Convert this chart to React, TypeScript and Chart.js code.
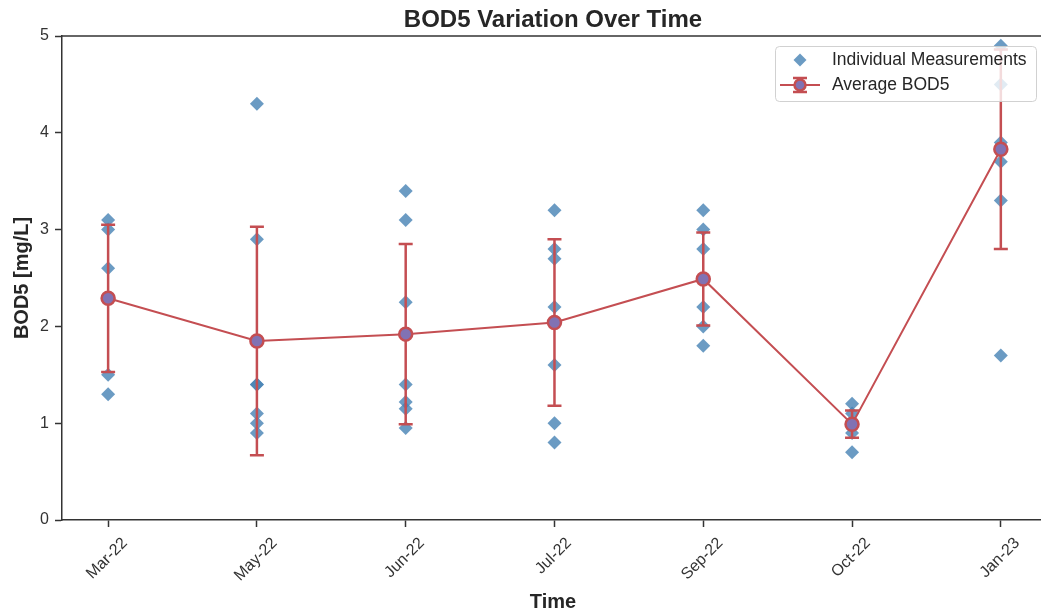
import React, { useEffect, useRef } from "react";
import { Chart, registerables } from "chart.js";

Chart.register(...registerables);

const categories = ["Mar-22", "May-22", "Jun-22", "Jul-22", "Sep-22", "Oct-22", "Jan-23"];

const measurements: number[][] = [
  [3.1, 3.0, 2.6, 1.5, 1.3],
  [4.3, 2.9, 1.4, 1.4, 1.1, 1.0, 0.9],
  [3.4, 3.1, 2.25, 1.4, 1.22, 1.15, 0.95],
  [3.2, 2.8, 2.7, 2.2, 1.6, 1.0, 0.8],
  [3.2, 3.0, 2.8, 2.5, 2.2, 2.0, 1.8],
  [1.2, 1.1, 1.0, 0.9, 0.7],
  [4.9, 4.5, 3.9, 3.85, 3.7, 3.3, 1.7],
];

const averageBOD5 = [2.29, 1.85, 1.92, 2.04, 2.49, 0.99, 3.83];
const errorBOD5 = [0.76, 1.18, 0.93, 0.86, 0.48, 0.14, 1.03];

const yTicks = [0, 1, 2, 3, 4, 5];

const RED = "#c44e52";
const PURPLE = "#8172b3";
const BLUE = "rgba(70,130,180,0.8)";
const TEXT = "#262626";
const FONT = "'Liberation Sans', Arial, sans-serif";

export default function App() {
  const ref = useRef<HTMLCanvasElement | null>(null);

  useEffect(() => {
    if (!ref.current) return;
    const scatterData: { x: number; y: number }[] = [];
    measurements.forEach((vals, i) => vals.forEach((v) => scatterData.push({ x: i, y: v })));
    const lineData = averageBOD5.map((v, i) => ({ x: i, y: v }));

    const plugin = {
      id: "custom",
      afterDatasetDraw(chart: any, args: any) {
        if (args.index !== 0) return;
        const ctx = chart.ctx;
        const xs = chart.scales.x;
        const ys = chart.scales.y;
        ctx.save();
        ctx.strokeStyle = RED;
        ctx.lineWidth = 2.5;
        averageBOD5.forEach((m, i) => {
          const px = xs.getPixelForValue(i);
          const top = ys.getPixelForValue(m + errorBOD5[i]);
          const bot = ys.getPixelForValue(m - errorBOD5[i]);
          ctx.beginPath();
          ctx.moveTo(px, top);
          ctx.lineTo(px, bot);
          ctx.moveTo(px - 7, top);
          ctx.lineTo(px + 7, top);
          ctx.moveTo(px - 7, bot);
          ctx.lineTo(px + 7, bot);
          ctx.stroke();
        });
        ctx.restore();
      },
      afterDraw(chart: any) {
        const ctx = chart.ctx;
        const xs = chart.scales.x;
        const ca = chart.chartArea;
        ctx.save();
        // top spine
        ctx.strokeStyle = "#333";
        ctx.lineWidth = 1.5;
        ctx.beginPath();
        ctx.moveTo(ca.left, ca.top);
        ctx.lineTo(ca.right, ca.top);
        ctx.stroke();
        // title
        ctx.fillStyle = TEXT;
        ctx.font = `bold 24px ${FONT}`;
        ctx.textAlign = "center";
        ctx.textBaseline = "alphabetic";
        ctx.fillText("BOD5 Variation Over Time", 553, 27);
        // x labels rotated
        ctx.font = `16px ${FONT}`;
        ctx.fillStyle = "#333";
        categories.forEach((c, i) => {
          const px = xs.getPixelForValue(i);
          const w = ctx.measureText(c).width;
          const h = 16;
          const half = ((w + h) * Math.SQRT1_2) / 2;
          const cy = ca.bottom + 7 + 8 + half;
          ctx.save();
          ctx.translate(px - 1, cy);
          ctx.rotate(-Math.PI / 4);
          ctx.textAlign = "center";
          ctx.textBaseline = "middle";
          ctx.fillText(c, 0, 0);
          ctx.restore();
        });
        // axis titles
        ctx.fillStyle = TEXT;
        ctx.font = `bold 20px ${FONT}`;
        ctx.textAlign = "center";
        ctx.textBaseline = "middle";
        ctx.fillText("Time", 553, 602);
        ctx.save();
        ctx.translate(22, (ca.top + ca.bottom) / 2);
        ctx.rotate(-Math.PI / 2);
        ctx.fillText("BOD5 [mg/L]", 0, 0);
        ctx.restore();
        // legend
        const lx = 775, ly = 46, lw = 261, lh = 55;
        ctx.fillStyle = "rgba(255,255,255,0.8)";
        ctx.strokeStyle = "rgba(204,204,204,0.9)";
        ctx.lineWidth = 1;
        ctx.beginPath();
        (ctx as any).roundRect(lx + 0.5, ly + 0.5, lw, lh, 4);
        ctx.fill();
        ctx.stroke();
        // diamond
        const dx = 800, dy1 = 60;
        ctx.fillStyle = BLUE;
        ctx.beginPath();
        ctx.moveTo(dx, dy1 - 6.5);
        ctx.lineTo(dx + 6.5, dy1);
        ctx.lineTo(dx, dy1 + 6.5);
        ctx.lineTo(dx - 6.5, dy1);
        ctx.closePath();
        ctx.fill();
        // errorbar symbol
        const dy2 = 85;
        ctx.strokeStyle = RED;
        ctx.lineWidth = 2;
        ctx.beginPath();
        ctx.moveTo(780, dy2);
        ctx.lineTo(820, dy2);
        ctx.stroke();
        ctx.lineWidth = 2.5;
        ctx.beginPath();
        ctx.moveTo(dx, dy2 - 7);
        ctx.lineTo(dx, dy2 + 7);
        ctx.moveTo(dx - 7, dy2 - 7);
        ctx.lineTo(dx + 7, dy2 - 7);
        ctx.moveTo(dx - 7, dy2 + 7);
        ctx.lineTo(dx + 7, dy2 + 7);
        ctx.stroke();
        ctx.fillStyle = PURPLE;
        ctx.beginPath();
        ctx.arc(dx, dy2, 5.5, 0, Math.PI * 2);
        ctx.fill();
        ctx.lineWidth = 2.5;
        ctx.stroke();
        ctx.fillStyle = TEXT;
        ctx.font = `17.5px ${FONT}`;
        ctx.textAlign = "left";
        ctx.textBaseline = "middle";
        ctx.fillText("Individual Measurements", 832, dy1);
        ctx.fillText("Average BOD5", 832, dy2);
        ctx.restore();
      },
    };

    const chart = new Chart(ref.current, {
      type: "scatter",
      data: {
        datasets: [
          {
            label: "Individual Measurements",
            data: scatterData,
            pointStyle: "rectRot",
            pointRadius: 7,
            pointHoverRadius: 7,
            backgroundColor: BLUE,
            borderColor: BLUE,
            borderWidth: 0,
            order: 2,
          },
          {
            type: "line",
            label: "Average BOD5",
            data: lineData,
            borderColor: RED,
            borderWidth: 2,
            pointRadius: 6.5,
            pointBackgroundColor: PURPLE,
            pointBorderColor: RED,
            pointBorderWidth: 2.5,
            showLine: true,
            order: 1,
          } as any,
        ],
      },
      options: {
        animation: false,
        responsive: false,
        maintainAspectRatio: false,
        events: [],
        layout: { autoPadding: false, padding: { top: 36, right: 0, left: 0, bottom: 0 } },
        plugins: { legend: { display: false }, title: { display: false }, tooltip: { enabled: false } },
        scales: {
          x: {
            type: "linear",
            min: -0.31,
            max: 6.27,
            afterBuildTicks: (s: any) => {
              s.ticks = categories.map((_, i) => ({ value: i }));
            },
            afterFit: (s: any) => {
              s.height = 96;
              s.paddingLeft = 0;
              s.paddingRight = 0;
            },
            ticks: { display: false },
            grid: {
              display: true,
              drawOnChartArea: false,
              drawTicks: true,
              tickLength: 7,
              tickWidth: 1.5,
              tickColor: "#333",
            },
            border: { display: true, color: "#333", width: 1.5 },
          },
          y: {
            type: "linear",
            min: 0,
            max: 5,
            afterBuildTicks: (s: any) => {
              s.ticks = yTicks.map((v) => ({ value: v }));
            },
            afterFit: (s: any) => {
              s.width = 62;
              s.paddingTop = 0;
              s.paddingBottom = 0;
            },
            ticks: {
              color: "#333",
              font: { family: FONT, size: 16 },
              padding: 6,
            },
            grid: {
              display: true,
              drawOnChartArea: false,
              drawTicks: true,
              tickLength: 7,
              tickWidth: 1.5,
              tickColor: "#333",
            },
            border: { display: true, color: "#333", width: 1.5 },
          },
        },
      },
      plugins: [plugin],
    } as any);
    return () => chart.destroy();
  }, []);

  return (
    <div style={{ position: "fixed", left: 0, top: 0, width: 1041, height: 616, background: "#fff" }}>
      <canvas ref={ref} width={1041} height={616} style={{ width: 1041, height: 616 }} />
    </div>
  );
}
